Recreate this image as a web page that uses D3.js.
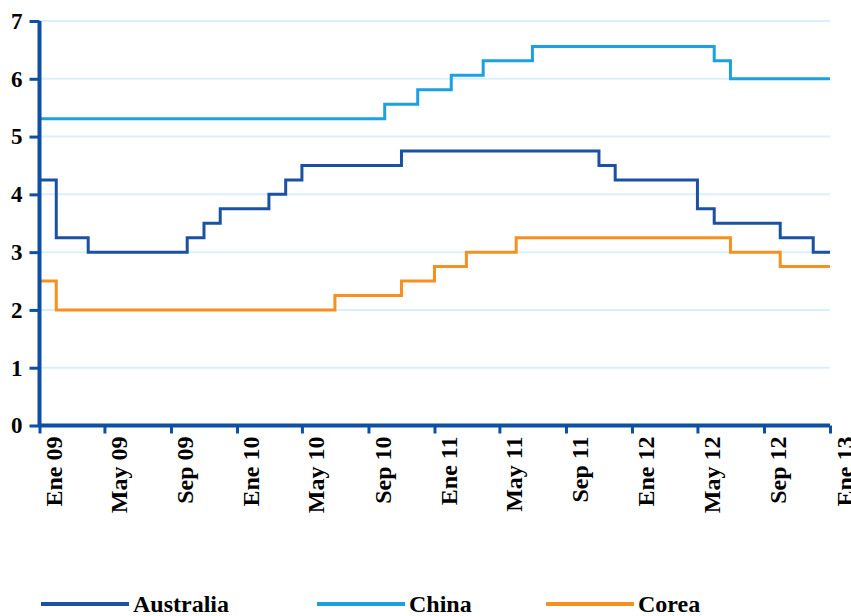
<!DOCTYPE html>
<html>
<head>
<meta charset="utf-8">
<script src="https://cdn.jsdelivr.net/npm/d3@7"></script>
<style>
  html, body { margin: 0; padding: 0; background: #fff; }
  svg { display: block; }
  svg text { font-family: "Liberation Serif", "Times New Roman", Times, "DejaVu Serif", serif !important; font-weight: bold; fill: #000; }
</style>
</head>
<body>
<svg id="chart" width="851" height="616"></svg>
<script>
// Monthly policy rates, Jan 2009 .. Jan 2013 (49 months)
const months = ["2009-01","2009-02","2009-03","2009-04","2009-05","2009-06","2009-07","2009-08","2009-09","2009-10","2009-11","2009-12",
                "2010-01","2010-02","2010-03","2010-04","2010-05","2010-06","2010-07","2010-08","2010-09","2010-10","2010-11","2010-12",
                "2011-01","2011-02","2011-03","2011-04","2011-05","2011-06","2011-07","2011-08","2011-09","2011-10","2011-11","2011-12",
                "2012-01","2012-02","2012-03","2012-04","2012-05","2012-06","2012-07","2012-08","2012-09","2012-10","2012-11","2012-12",
                "2013-01"];

const australia = [4.25,3.25,3.25,3.00,3.00,3.00,3.00,3.00,3.00,3.25,3.50,3.75,
                   3.75,3.75,4.00,4.25,4.50,4.50,4.50,4.50,4.50,4.50,4.75,4.75,
                   4.75,4.75,4.75,4.75,4.75,4.75,4.75,4.75,4.75,4.75,4.50,4.25,
                   4.25,4.25,4.25,4.25,3.75,3.50,3.50,3.50,3.50,3.25,3.25,3.00,
                   3.00];

const china = [5.31,5.31,5.31,5.31,5.31,5.31,5.31,5.31,5.31,5.31,5.31,5.31,
               5.31,5.31,5.31,5.31,5.31,5.31,5.31,5.31,5.31,5.56,5.56,5.81,
               5.81,6.06,6.06,6.31,6.31,6.31,6.56,6.56,6.56,6.56,6.56,6.56,
               6.56,6.56,6.56,6.56,6.56,6.31,6.00,6.00,6.00,6.00,6.00,6.00,
               6.00];

const corea = [2.50,2.00,2.00,2.00,2.00,2.00,2.00,2.00,2.00,2.00,2.00,2.00,
               2.00,2.00,2.00,2.00,2.00,2.00,2.25,2.25,2.25,2.25,2.50,2.50,
               2.75,2.75,3.00,3.00,3.00,3.25,3.25,3.25,3.25,3.25,3.25,3.25,
               3.25,3.25,3.25,3.25,3.25,3.25,3.00,3.00,3.00,2.75,2.75,2.75,
               2.75];

const seriesNames = ["Australia", "China", "Corea"];
const seriesColors = ["#1b51a3", "#1ba1e2", "#f7901e"];

const tickMonths = ["2009-01","2009-05","2009-09","2010-01","2010-05","2010-09","2011-01","2011-05","2011-09","2012-01","2012-05","2012-09","2013-01"];
const tickLabels = ["Ene 09","May 09","Sep 09","Ene 10","May 10","Sep 10","Ene 11","May 11","Sep 11","Ene 12","May 12","Sep 12","Ene 13"];
const yTicks = [0, 1, 2, 3, 4, 5, 6, 7];

const parse = d3.timeParse("%Y-%m");
const dates = months.map(parse);

const svg = d3.select("#chart");
const axisColor = "#0d4fa5";
const fontStack = "'Liberation Serif', 'Times New Roman', Times, 'DejaVu Serif', serif";

const x = d3.scaleTime().domain([dates[0], dates[dates.length - 1]]).range([39.5, 830]);
const y = d3.scaleLinear().domain([0, 7]).range([425.5, 21]);

// horizontal gridlines
svg.append("g")
  .selectAll("line")
  .data(yTicks.filter(v => v > 0))
  .join("line")
  .attr("x1", x.range()[0]).attr("x2", x.range()[1])
  .attr("y1", d => y(d)).attr("y2", d => y(d))
  .attr("stroke", "#d9f0fb").attr("stroke-width", 2);

// series lines
const series = [australia, china, corea];
const line = d3.line()
  .x((d, i) => x(dates[i]))
  .y(d => y(d))
  .curve(d3.curveStepAfter);

svg.append("g")
  .selectAll("path")
  .data(series)
  .join("path")
  .attr("d", d => line(d))
  .attr("fill", "none")
  .attr("stroke", (d, i) => seriesColors[i])
  .attr("stroke-width", 3)
  .attr("stroke-linejoin", "miter");

// y axis
const yAxis = svg.append("g")
  .attr("transform", `translate(${x.range()[0]},0)`)
  .call(d3.axisLeft(y).tickValues(yTicks).tickSize(10).tickPadding(7).tickFormat(d3.format("d")));
yAxis.attr("font-family", fontStack);
yAxis.select(".domain").attr("stroke", axisColor).attr("stroke-width", 4).attr("d", `M0,${y(7)}V${y(0)}`);
yAxis.selectAll(".tick line").attr("stroke", axisColor).attr("stroke-width", 3);
yAxis.selectAll(".tick text")
  .attr("font-size", 23)
  .attr("fill", "#000")
  .attr("x", -17);

// x axis
const tickDates = tickMonths.map(parse);
const xAxis = svg.append("g")
  .attr("transform", `translate(0,${y(0)})`)
  .call(d3.axisBottom(x).tickValues(tickDates).tickSize(8).tickFormat((d, i) => tickLabels[i]));
xAxis.attr("font-family", fontStack);
xAxis.select(".domain").attr("stroke", axisColor).attr("stroke-width", 4).attr("d", `M${x.range()[0]},0H${x.range()[1]}`);
xAxis.selectAll(".tick line").attr("stroke", axisColor).attr("stroke-width", 3);
xAxis.selectAll(".tick text")
  .attr("font-size", 24)
  .attr("fill", "#000")
  .attr("text-anchor", "end")
  .attr("dy", null)
  .attr("y", null)
  .attr("transform", "translate(22,11) rotate(-90)");

// legend
const legendX = [41, 317, 546];
const legend = svg.append("g").attr("font-family", fontStack);
seriesNames.forEach((name, i) => {
  legend.append("line")
    .attr("x1", legendX[i]).attr("x2", legendX[i] + 88)
    .attr("y1", 604).attr("y2", 604)
    .attr("stroke", seriesColors[i]).attr("stroke-width", 4);
  legend.append("text")
    .attr("x", legendX[i] + 92).attr("y", 612)
    .attr("font-size", 24)
    .text(name);
});
</script>
</body>
</html>
